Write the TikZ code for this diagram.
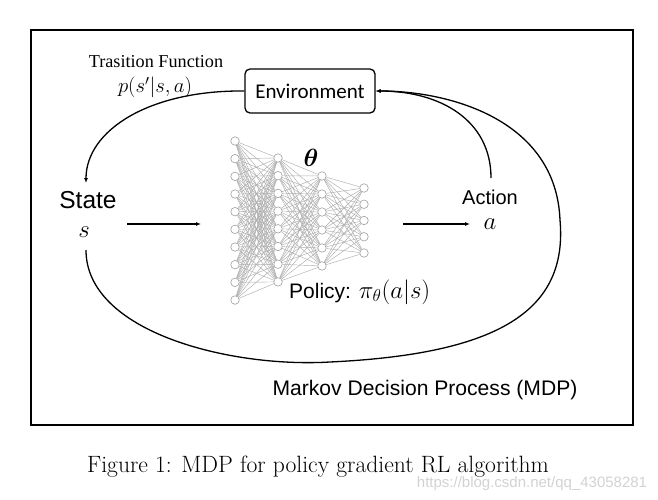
\documentclass[tikz,border=0pt]{standalone}
\usepackage{fontspec}
\usepackage{amsmath,bm}
\usetikzlibrary{arrows.meta}
\newfontfamily\arialf{Liberation Sans}
\newfontfamily\calif{Carlito}
\newfontfamily\serff{Liberation Serif}
\begin{document}
\begin{tikzpicture}[x=1pt,y=-1pt,
  conn/.style={line width=1.3pt,-{Latex[length=5pt,width=4pt]}},
  neuron/.style={circle,draw=gray!75,fill=white,line width=0.6pt,minimum size=8.5pt,inner sep=0pt},
  edge/.style={gray!65,line width=0.45pt},
  lbl/.style={inner sep=0pt,anchor=center}]
\useasboundingbox (0,0) rectangle (658,500);
% frame
\draw[line width=2pt] (31,30) rectangle (633,425);
% environment
\node[draw,rounded corners=5pt,line width=1.3pt,minimum width=130pt,minimum height=44pt,inner sep=0pt] (env) at (310,91) {\calif\fontsize{21}{21}\selectfont Environment};
\node[lbl] (trans) at (156,61.5) {\serff\fontsize{18.2}{18.2}\selectfont Trasition Function};
\node[lbl] (transp) at (155,87.5) {\fontsize{20}{20}\selectfont $p(s'|s,a)$};
% state and action
\node[lbl] (stateT) at (88,200) {\arialf\fontsize{24.5}{24.5}\selectfont State};
\node[lbl] (stateS) at (84,232) {\fontsize{24}{24}\selectfont $s$};
\node[lbl] (actT) at (490,197) {\arialf\fontsize{20}{20}\selectfont Action};
\node[lbl] (actA) at (490,224) {\fontsize{23}{23}\selectfont $a$};
\node[lbl] (theta) at (311,158) {\fontsize{23}{23}\selectfont $\boldsymbol{\theta}$};
\node[lbl,anchor=west] (policy) at (289,292) {\arialf\fontsize{21}{21}\selectfont Policy: {\fontsize{23}{23}\selectfont$\pi_\theta(a|s)$}};
\node[lbl] (mdp) at (425,390) {\arialf\fontsize{21.1}{21.1}\selectfont Markov Decision Process (MDP)};
\node[lbl] (cap) at (318,467) {\fontsize{23.6}{23.6}\selectfont Figure 1: MDP for policy gradient RL algorithm};
\node[lbl] (wm) at (532,484) {\arialf\fontsize{15}{15}\selectfont\color{gray!35} https://blog.csdn.net/qq\_43058281};
% network
\foreach \i in {0,...,9} \node[neuron] (na\i) at (235,{141+\i*17.67}) {};
\foreach \i in {0,...,7} \node[neuron] (nb\i) at (278,{158+\i*17.7}) {};
\foreach \i in {0,...,5} \node[neuron] (nc\i) at (322,{176+\i*18}) {};
\foreach \i in {0,...,4} \node[neuron] (nd\i) at (364,{188+\i*16.25}) {};
\foreach \i in {0,...,9} \foreach \j in {0,...,7} \draw[edge] (na\i) -- (nb\j);
\foreach \i in {0,...,7} \foreach \j in {0,...,5} \draw[edge] (nb\i) -- (nc\j);
\foreach \i in {0,...,5} \foreach \j in {0,...,4} \draw[edge] (nc\i) -- (nd\j);
% connector ends
\coordinate (stIn) at (86,183);
\coordinate (stOut) at (86,250);
\coordinate (acOut) at (491,178);
\coordinate (nnIn) at (201,224);
\coordinate (stR) at (127,224);
\coordinate (nnOut) at (403,224);
\coordinate (acIn) at (470,224);
% connectors
\draw[conn] (stR) -- (nnIn);
\draw[conn] (nnOut) -- (acIn);
\draw[conn] (env.west) .. controls (150,90) and (86,130) .. (stIn);
\draw[conn] (acOut) .. controls (491,120) and (440,91) .. (env.east);
\draw[conn] (stOut) .. controls (86,332) and (230,368) .. (330,362)
   .. controls (500,354) and (568,310) .. (560,220)
   .. controls (556,120) and (450,91) .. (env.east);
\end{tikzpicture}
\end{document}
